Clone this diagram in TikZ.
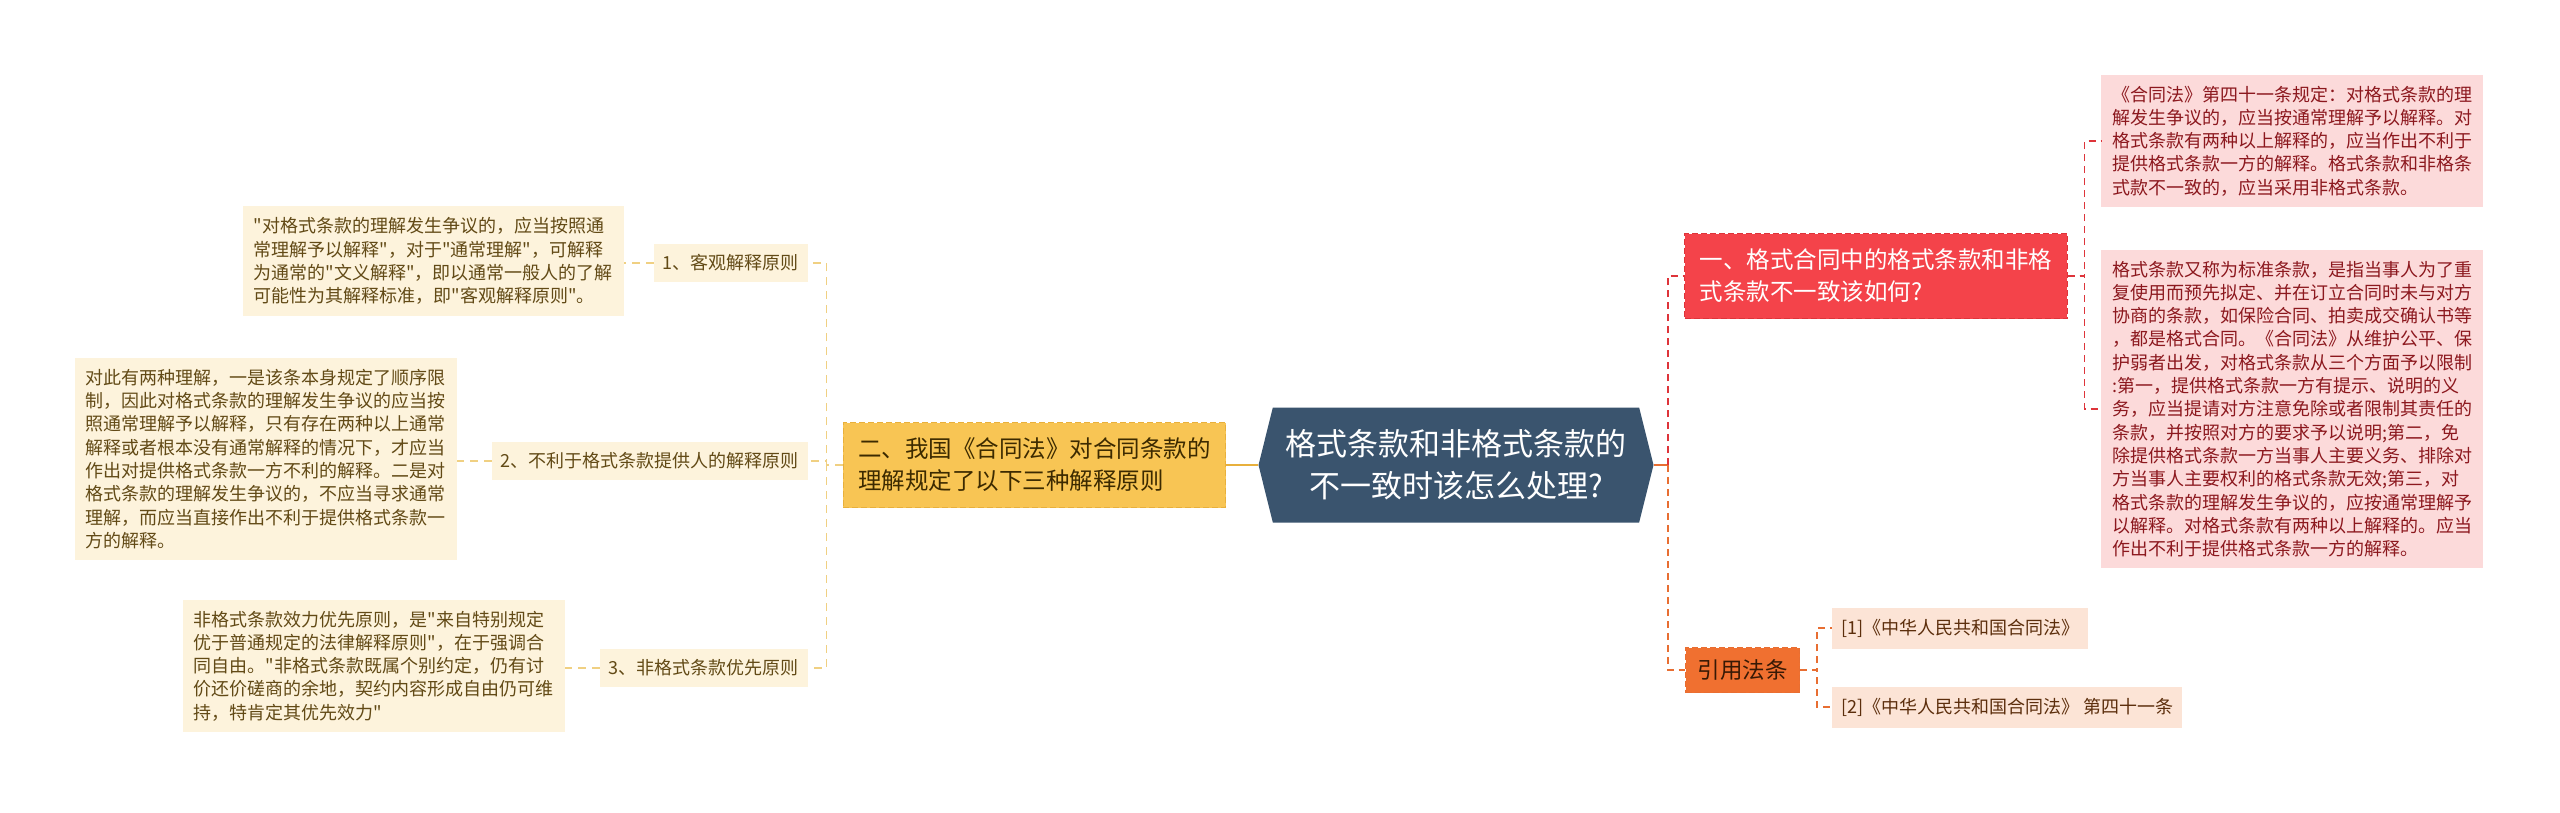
\documentclass[tikz,border=0pt]{standalone}
\usepackage{fontspec}
\setmainfont{Noto Sans CJK SC}[Ligatures=TeXOff]
\usetikzlibrary{shapes.symbols}
\definecolor{rootbg}{RGB}{58,84,110}
\definecolor{yelbg}{RGB}{248,197,84}
\definecolor{yelln}{RGB}{232,176,60}
\definecolor{yeldash}{RGB}{240,208,130}
\definecolor{creambg}{RGB}{253,243,220}
\definecolor{creamtx}{RGB}{98,74,22}
\definecolor{redbg}{RGB}{244,67,74}
\definecolor{redln}{RGB}{222,52,58}
\definecolor{pinkbg}{RGB}{252,218,218}
\definecolor{pinktx}{RGB}{140,24,30}
\definecolor{orgbg}{RGB}{240,112,48}
\definecolor{orgln}{RGB}{232,110,50}
\definecolor{peachbg}{RGB}{252,228,214}
\definecolor{peachtx}{RGB}{92,46,12}
\definecolor{yeltx}{RGB}{60,42,0}
\definecolor{orgtx}{RGB}{55,25,5}

\begin{document}
\begin{tikzpicture}[x=1pt, y=-1pt,
    rootbox/.style={shape=signal, signal to=west and east, signal pointer angle=152,
        fill=rootbg, text=white, minimum width=395pt, minimum height=115pt,
        align=center, font=\fontsize{31pt}{42pt}\selectfont},
    mainbox/.style={draw, dash pattern=on 6pt off 3pt, line width=1pt, inner xsep=15pt,
        minimum height=85pt, align=left, font=\fontsize{23.5pt}{32pt}\selectfont},
    subbox/.style={fill=creambg, text=creamtx, minimum height=38pt, inner xsep=9pt,
        font=\fontsize{18pt}{23pt}\selectfont},
    notebox/.style={align=left, inner xsep=11pt, inner ysep=11pt,
        font=\fontsize{18pt}{23.3pt}\selectfont},
    dashY/.style={yeldash, line width=1.5pt, dash pattern=on 8pt off 6pt},
    dashR/.style={redln, line width=2pt, dash pattern=on 7pt off 5pt},
    dashO/.style={orgln, line width=2pt, dash pattern=on 7pt off 5pt}]

    \fill[white] (0,0) rectangle (2560,812);
    \useasboundingbox (0,0) rectangle (2560,812);

    % centre
    \node[rootbox] (root) at (1456,465) {格式条款和非格式条款的\\不一致时该怎么处理?};

    % left branch
    \node[mainbox, fill=yelbg, draw=yelln, text=yeltx, anchor=east] (yel) at (1226,465)
        {二、我国《合同法》对合同条款的\\理解规定了以下三种解释原则};

    \node[subbox, anchor=east] (c1) at (808,263) {1、客观解释原则};
    \node[subbox, anchor=east] (c2) at (808,461) {2、不利于格式条款提供人的解释原则};
    \node[subbox, anchor=east] (c3) at (808,668) {3、非格式条款优先原则};

    \node[notebox, fill=creambg, text=creamtx, anchor=east] (t1) at (624,261)
        {"对格式条款的理解发生争议的，应当按照通\\常理解予以解释"，对于"通常理解"，可解释\\为通常的"文义解释"，即以通常一般人的了解\\可能性为其解释标准，即"客观解释原则"。};
    \node[notebox, fill=creambg, text=creamtx, anchor=east] (t2) at (457,459)
        {对此有两种理解，一是该条本身规定了顺序限\\制，因此对格式条款的理解发生争议的应当按\\照通常理解予以解释，只有存在两种以上通常\\解释或者根本没有通常解释的情况下，才应当\\作出对提供格式条款一方不利的解释。二是对\\格式条款的理解发生争议的，不应当寻求通常\\理解，而应当直接作出不利于提供格式条款一\\方的解释。};
    \node[notebox, fill=creambg, text=creamtx, anchor=east] (t3) at (565,666)
        {非格式条款效力优先原则，是"来自特别规定\\优于普通规定的法律解释原则"，在于强调合\\同自由。"非格式条款既属个别约定，仍有讨\\价还价磋商的余地，契约内容形成自由仍可维\\持，特肯定其优先效力"};

    % right branch
    \node[mainbox, fill=redbg, draw=redln, text=white, anchor=west] (red) at (1684,276)
        {一、格式合同中的格式条款和非格\\式条款不一致该如何?};
    \node[notebox, fill=pinkbg, text=pinktx, anchor=west] (p1) at (2101,141)
        {《合同法》第四十一条规定：对格式条款的理\\解发生争议的，应当按通常理解予以解释。对\\格式条款有两种以上解释的，应当作出不利于\\提供格式条款一方的解释。格式条款和非格条\\式款不一致的，应当采用非格式条款。};
    \node[notebox, fill=pinkbg, text=pinktx, anchor=west] (p2) at (2101,409)
        {格式条款又称为标准条款，是指当事人为了重\\复使用而预先拟定、并在订立合同时未与对方\\协商的条款，如保险合同、拍卖成交确认书等\\，都是格式合同。《合同法》从维护公平、保\\护弱者出发，对格式条款从三个方面予以限制\\:第一，提供格式条款一方有提示、说明的义\\务，应当提请对方注意免除或者限制其责任的\\条款，并按照对方的要求予以说明;第二，免\\除提供格式条款一方当事人主要义务、排除对\\方当事人主要权利的格式条款无效;第三，对\\格式条款的理解发生争议的，应按通常理解予\\以解释。对格式条款有两种以上解释的。应当\\作出不利于提供格式条款一方的解释。};

    \node[draw=orgln, dash pattern=on 6pt off 3pt, line width=1pt, fill=orgbg, text=orgtx,
        minimum height=45pt, inner xsep=12pt, font=\fontsize{22.5pt}{28pt}\selectfont, anchor=west] (org) at (1685,670) {引用法条};
    \node[subbox, fill=peachbg, text=peachtx, minimum height=41pt, anchor=west] (r1) at (1832,628) {[1]《中华人民共和国合同法》};
    \node[subbox, fill=peachbg, text=peachtx, minimum height=41pt, anchor=west] (r2) at (1832,707) {[2]《中华人民共和国合同法》 第四十一条};

    % connectors
    \draw[yelln, line width=2.5pt] (root.west) -- (yel.east);
    \draw[dashY] (yel.west) -- ++(-16,0) |- (c1.east);
    \draw[dashY] (yel.west) -- ++(-16,0) |- (c2.east);
    \draw[dashY] (yel.west) -- ++(-16,0) |- (c3.east);
    \draw[dashY] (c1.west) -- (c1.west -| t1.east);
    \draw[dashY] (c2.west) -- (c2.west -| t2.east);
    \draw[dashY] (c3.west) -- (c3.west -| t3.east);

    \draw[orgln, line width=2.5pt] (root.east) -- ++(14,0) coordinate (rs);
    \draw[dashR] (rs) |- (red.west);
    \draw[dashO] (rs) |- (org.west);
    \draw[dashR, line width=1.5pt] (red.east) -- ++(17,0) |- (p1.west);
    \draw[dashR, line width=1.5pt] (red.east) -- ++(17,0) |- (p2.west);
    \draw[dashO, line width=1.5pt] (org.east) -- ++(17,0) |- (r1.west);
    \draw[dashO, line width=1.5pt] (org.east) -- ++(17,0) |- (r2.west);

\end{tikzpicture}
\end{document}
